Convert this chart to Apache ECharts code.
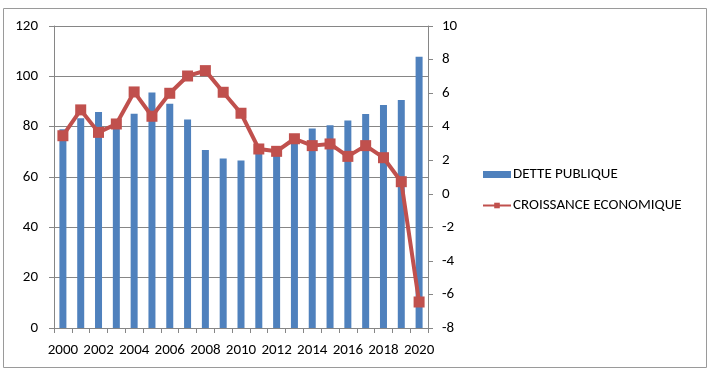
<!DOCTYPE html>
<html>
<head>
<meta charset="utf-8">
<script src="https://cdn.jsdelivr.net/npm/echarts@6/dist/echarts.min.js"></script>
<style>
  html, body { margin: 0; padding: 0; background: #fff; }
  #main { width: 710px; height: 375px; }
</style>
</head>
<body>
<div id="main"></div>
<script>
var years = ['2000','2001','2002','2003','2004','2005','2006','2007','2008','2009','2010',
  '2011','2012','2013','2014','2015','2016','2017','2018','2019','2020']
var dette = [79, 83.3, 85.8, 80.5, 85.1, 93.6, 89.1, 82.8, 70.7, 67.4, 66.6,
  70.2, 69.6, 75, 79.3, 80.6, 82.5, 85, 88.6, 90.6, 107.8]
var croissance = [3.46, 5.0, 3.66, 4.16, 6.07, 4.62, 5.99, 7.02, 7.34, 6.05, 4.8,
  2.67, 2.53, 3.28, 2.87, 2.97, 2.23, 2.87, 2.15, 0.72, -6.45]

var axisGray = '#868686'
var font = 'Carlito, "Liberation Sans", "DejaVu Sans", sans-serif'

function main() {
  var myChart = echarts.init(document.getElementById('main'))
  var option = {
    animation: false,
    textStyle: { fontFamily: font },
    graphic: [{
      type: 'rect',
      shape: { x: 3.5, y: 8.5, width: 703, height: 359 },
      style: { fill: 'none', stroke: '#9a9a9a', lineWidth: 1 },
      silent: true
    }],
    grid: { left: 54, right: 282, top: 26, bottom: 47 },
    legend: {
      orient: 'vertical',
      left: 477,
      top: 162,
      itemGap: 16,
      itemWidth: 28,
      itemHeight: 7,
      textStyle: { fontSize: 15, color: '#000', fontFamily: font, padding: [0, 0, 0, -3] },
      data: [
        { name: 'DETTE PUBLIQUE', icon: 'rect' },
        { name: 'CROISSANCE ECONOMIQUE' }
      ]
    },
    xAxis: {
      type: 'category',
      data: years,
      axisLine: { lineStyle: { color: axisGray } },
      axisTick: { show: true, interval: 0, length: 5, lineStyle: { color: axisGray } },
      axisLabel: { interval: 1, color: '#000', fontSize: 15, margin: 15 }
    },
    yAxis: [
      {
        type: 'value',
        min: 0, max: 120, interval: 20,
        axisLine: { show: true, lineStyle: { color: axisGray } },
        axisTick: { show: true, length: 5, lineStyle: { color: axisGray } },
        axisLabel: { color: '#000', fontSize: 15, margin: 16 },
        splitLine: { lineStyle: { color: axisGray, width: 1 } }
      },
      {
        type: 'value',
        min: -8, max: 10, interval: 2,
        position: 'right',
        axisLine: { show: true, lineStyle: { color: axisGray } },
        axisTick: { show: true, length: 5, lineStyle: { color: axisGray } },
        axisLabel: { color: '#000', fontSize: 15, margin: 14 },
        splitLine: { show: false }
      }
    ],
    series: [
      {
        name: 'DETTE PUBLIQUE',
        type: 'bar',
        data: dette,
        barWidth: 7,
        itemStyle: { color: '#4F81BD' }
      },
      {
        name: 'CROISSANCE ECONOMIQUE',
        type: 'line',
        yAxisIndex: 1,
        data: croissance,
        symbol: 'rect',
        symbolSize: 11,
        itemStyle: { color: '#C0504D' },
        lineStyle: { color: '#C0504D', width: 4 }
      }
    ]
  }
  myChart.setOption(option)
}

window.onload = main
</script>
</body>
</html>
